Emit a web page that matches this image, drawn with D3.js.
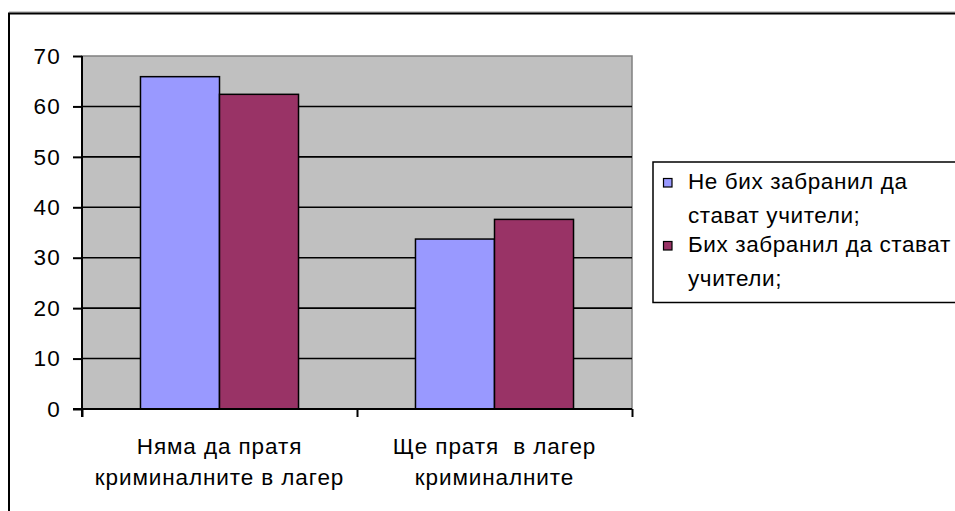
<!DOCTYPE html>
<html>
<head>
<meta charset="utf-8">
<script src="https://cdn.jsdelivr.net/npm/d3@7"></script>
<style>
  html, body { margin: 0; padding: 0; background: #fff; }
  svg { display: block; }
  text { font-family: "Liberation Sans", Arial, sans-serif; fill: #000; }
</style>
</head>
<body>
<svg id="chart" width="955" height="511"></svg>
<script>
// ---- data ----
const categories = ["Няма да пратя\nкриминалните в лагер", "Ще пратя  в лагер\nкриминалните"];
const seriesNames = ["Не бих забранил да\nстават учители;", "Бих забранил да стават\nучители;"];
const seriesA = [65.9, 33.7];   // Не бих забранил да стават учители;
const seriesB = [62.4, 37.6];   // Бих забранил да стават учители;
const yTicks = [0, 10, 20, 30, 40, 50, 60, 70];
const colors = ["#9999FF", "#993366"];

const svg = d3.select("#chart");
const plot = { left: 82, right: 632, top: 56, bottom: 409 };
const FS = 22.5;

// chart outer border
svg.append("line").attr("x1", 9).attr("x2", 960).attr("y1", 12).attr("y2", 12)
  .attr("stroke", "#999").attr("stroke-width", 1);
svg.append("rect").attr("x", 9).attr("y", 13.5).attr("width", 980).attr("height", 520)
  .attr("fill", "#fff").attr("stroke", "#000").attr("stroke-width", 2);

const x0 = d3.scaleBand().domain(d3.range(categories.length)).range([plot.left, plot.right]).padding(0);
const x1 = d3.scaleBand().domain([0, 1]).range([0, x0.bandwidth()]).paddingInner(0).paddingOuter(0.74);
const y = d3.scaleLinear().domain([0, 70]).range([plot.bottom, plot.top]);

// plot area
svg.append("rect").attr("x", plot.left).attr("y", plot.top)
  .attr("width", plot.right - plot.left).attr("height", plot.bottom - plot.top)
  .attr("fill", "#C0C0C0").attr("stroke", "#808080").attr("stroke-width", 1.5);

// gridlines
svg.append("g").selectAll("line").data(yTicks.filter(d => d > 0 && d < 70)).join("line")
  .attr("x1", plot.left).attr("x2", plot.right)
  .attr("y1", d => y(d)).attr("y2", d => y(d))
  .attr("stroke", "#000").attr("stroke-width", 1.6);

// bars
const data = categories.map((c, i) => [seriesA[i], seriesB[i]]);
const groups = svg.append("g").selectAll("g").data(data).join("g")
  .attr("transform", (d, i) => `translate(${x0(i)},0)`);
groups.selectAll("rect").data(d => d.map((v, j) => ({ v, j }))).join("rect")
  .attr("x", d => x1(d.j)).attr("width", x1.bandwidth())
  .attr("y", d => y(d.v)).attr("height", d => y(0) - y(d.v))
  .attr("fill", d => colors[d.j]).attr("stroke", "#000").attr("stroke-width", 1.5);

// y axis
const yAxis = d3.axisLeft(y).tickValues(yTicks).tickSize(9).tickPadding(12).tickSizeOuter(0);
const gy = svg.append("g").attr("transform", `translate(${plot.left},0)`).call(yAxis);
gy.select(".domain").attr("stroke", "#000").attr("stroke-width", 2)
  .attr("d", `M0,${plot.top}V${plot.bottom + 8}`);
gy.selectAll(".tick line").attr("stroke", "#000").attr("stroke-width", 2);
gy.selectAll(".tick text").attr("font-size", FS).attr("letter-spacing", "1.2px")
  .style("font-family", '"Liberation Sans", Arial, sans-serif').attr("fill", "#000");

// x axis
const xScaleLin = d3.scaleLinear().domain([0, categories.length]).range([plot.left, plot.right]);
const xAxis = d3.axisBottom(xScaleLin).tickValues(d3.range(categories.length + 1)).tickSize(8).tickFormat("").tickSizeOuter(0);
const gx = svg.append("g").attr("transform", `translate(0,${plot.bottom})`).call(xAxis);
gx.select(".domain").attr("stroke", "#000").attr("stroke-width", 2).attr("d", `M${plot.left - 9},0H${plot.right}`);
gx.selectAll(".tick line").attr("stroke", "#000").attr("stroke-width", 2);

// category labels
const catLabels = svg.append("g").selectAll("text").data(categories).join("text")
  .attr("x", (d, i) => x0(i) + x0.bandwidth() / 2)
  .attr("y", 454)
  .attr("text-anchor", "middle").attr("font-size", FS).attr("letter-spacing", "0.9px");
catLabels.selectAll("tspan").data(d => d.split("\n")).join("tspan")
  .attr("x", function () { return d3.select(this.parentNode).attr("x"); })
  .attr("dy", (d, i) => i === 0 ? 0 : 31)
  .style("white-space", "pre")
  .text(d => d);

// legend
const lg = svg.append("g");
lg.append("rect").attr("x", 653).attr("y", 162).attr("width", 330).attr("height", 140.5)
  .attr("fill", "#fff").attr("stroke", "#000").attr("stroke-width", 1.5);
const legendY = [189, 252];
seriesNames.forEach((name, i) => {
  lg.append("rect").attr("x", 663.5).attr("y", legendY[i] - 10.5).attr("width", 8.5).attr("height", 8.5)
    .attr("fill", colors[i]).attr("stroke", "#000").attr("stroke-width", 1.2);
  const t = lg.append("text").attr("x", 688).attr("y", legendY[i])
    .attr("font-size", FS).attr("letter-spacing", "0.6px");
  name.split("\n").forEach((line, k) => {
    t.append("tspan").attr("x", 688).attr("dy", k === 0 ? 0 : 33.5).text(line);
  });
});
</script>
</body>
</html>
